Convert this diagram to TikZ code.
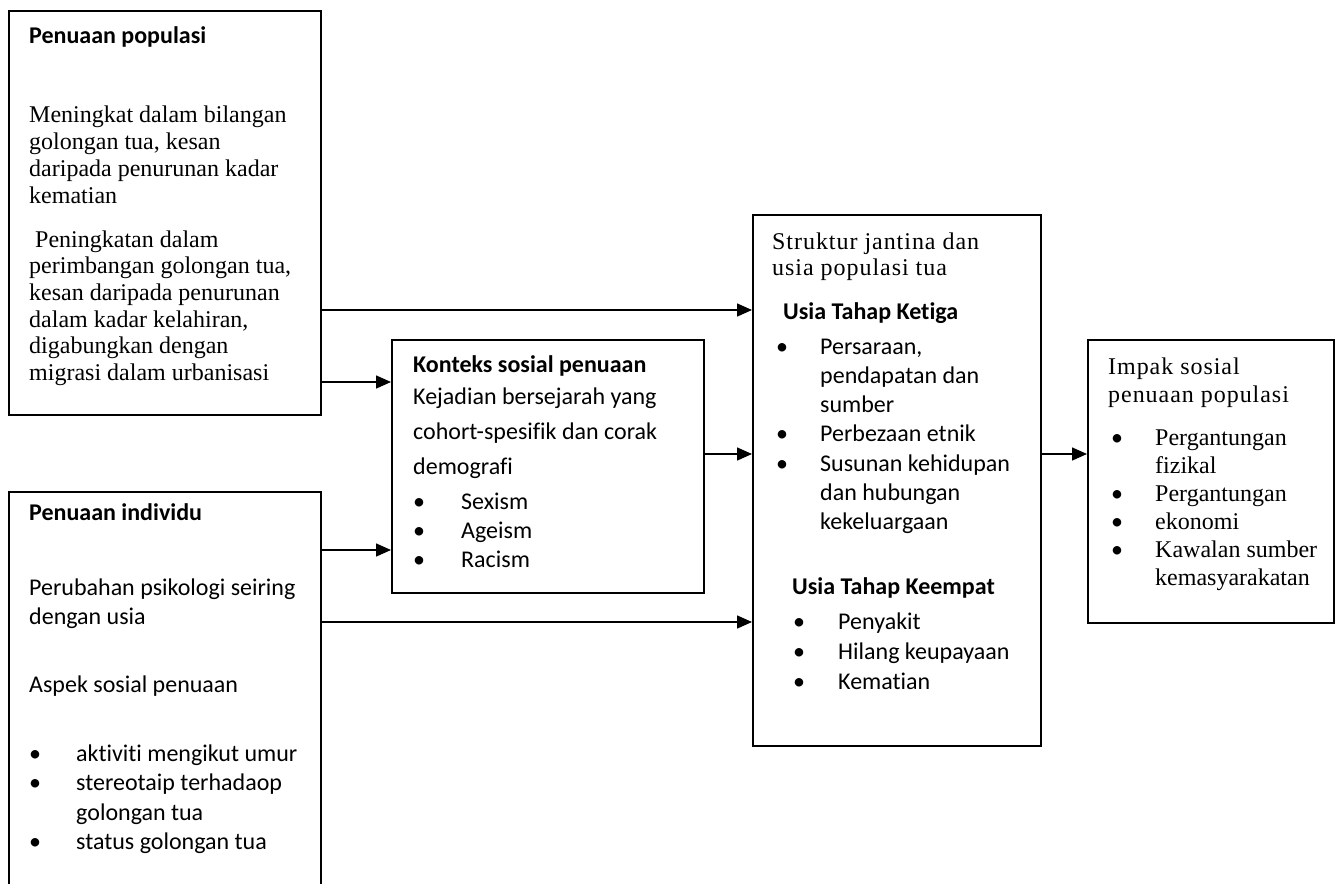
\documentclass[tikz,border=0pt]{standalone}
\usepackage{fontspec}
\setmainfont{Liberation Serif}
\setsansfont{Carlito}[Ligatures={NoCommon,NoContextual}]
\usetikzlibrary{arrows.meta}

% one node per printed line: style, name prefix, x, first baseline, line step, lines
\newcommand\txtlines[6]{%
  \foreach \ln [count=\k] in {#6}{%
    \node[#1] (#2-\k) at (#3, {#4+#5*(\k-1)}) {\ln};}}

\begin{document}
\begin{tikzpicture}[x=1pt,y=-1pt,
  box/.style={draw, line width=1.6pt, rectangle, inner sep=0pt, anchor=north west},
  serif/.style={font=\fontsize{24}{27}\selectfont, anchor=base west, inner sep=0pt},
  serifwide/.style={font=\fontsize{24}{27}\selectfont\addfontfeatures{LetterSpace=4}, anchor=base west, inner sep=0pt},
  sans/.style={font=\sffamily\fontsize{24}{29}\selectfont, anchor=base west, inner sep=0pt},
  sansb/.style={font=\sffamily\bfseries\fontsize{24}{29}\selectfont, anchor=base west, inner sep=0pt},
  arr/.style={-{Triangle[length=15pt,width=13pt]}, line width=1.5pt}]

\useasboundingbox (0,0) rectangle (1335,883);

% boxes
\node[box, minimum width=312pt, minimum height=404pt] (b1) at (8,10) {};
\node[box, minimum width=312pt, minimum height=420pt] (b2) at (8,491) {};
\node[box, minimum width=312pt, minimum height=253pt] (b3) at (391,339) {};
\node[box, minimum width=288pt, minimum height=531pt] (b4) at (752,214) {};
\node[box, minimum width=246pt, minimum height=283pt] (b5) at (1087,339) {};

% Penuaan populasi
\node[sansb] (t1) at (29,44) {Penuaan populasi};
\txtlines{serif}{p1}{29}{122}{27}{Meningkat dalam bilangan,{golongan tua, kesan},daripada penurunan kadar,kematian}
\node[serif] (p2-1) at (35,247) {Peningkatan dalam};
\txtlines{serif}{p2x}{29}{273.7}{26.7}{{perimbangan golongan tua,},kesan daripada penurunan,{dalam kadar kelahiran,},digabungkan dengan,migrasi dalam urbanisasi}

% Penuaan individu
\node[sansb] (t2) at (29,520) {Penuaan individu};
\txtlines{sans}{q1}{29}{595}{29}{Perubahan psikologi seiring,dengan usia}
\node[sans] (q2) at (29,692) {Aspek sosial penuaan};
\txtlines{sans}{q3}{76}{761}{29.5}{aktiviti mengikut umur,stereotaip terhadaop,golongan tua,status golongan tua}
\node[sans] (q3d1) at (29,761) {•};
\node[sans] (q3d2) at (29,790.5) {•};
\node[sans] (q3d4) at (29,849.5) {•};

% Konteks sosial penuaan
\node[sansb] (t3) at (413,372) {Konteks sosial penuaan};
\txtlines{sans}{r1}{413}{404}{35}{Kejadian bersejarah yang,cohort-spesifik dan corak,demografi}
\txtlines{sans}{r2}{461}{509}{29}{Sexism,Ageism,Racism}
\txtlines{sans}{r2d}{413}{509}{29}{•,•,•}

% Struktur jantina dan usia populasi tua
\txtlines{serifwide}{s0}{772}{249}{26.5}{Struktur jantina dan,usia populasi tua}
\node[sansb] (t4a) at (783,319) {Usia Tahap Ketiga};
\txtlines{sans}{s1}{820}{354}{29.3}{{Persaraan,},pendapatan dan,sumber,Perbezaan etnik,Susunan kehidupan,dan hubungan,kekeluargaan}
\node[sans] (s1d1) at (776,354) {•};
\node[sans] (s1d4) at (776,441.9) {•};
\node[sans] (s1d5) at (776,471.2) {•};
\node[sansb] (t4b) at (792,594) {Usia Tahap Keempat};
\txtlines{sans}{s2}{838}{629}{30}{Penyakit,Hilang keupayaan,Kematian}
\txtlines{sans}{s2d}{793}{629}{30}{•,•,•}

% Impak sosial penuaan populasi
\txtlines{serifwide}{u0}{1108}{374}{28}{Impak sosial,penuaan populasi}
\txtlines{serif}{u1}{1155}{445}{28}{Pergantungan,fizikal,Pergantungan,ekonomi,Kawalan sumber,kemasyarakatan}
\node[sans] (u1d1) at (1111,445) {•};
\node[sans] (u1d3) at (1111,501) {•};
\node[sans] (u1d4) at (1111,529) {•};
\node[sans] (u1d5) at (1111,557) {•};

% connector heights
\coordinate (y1) at (0,310);
\coordinate (y2) at (0,382);
\coordinate (y3) at (0,550);
\coordinate (y4) at (0,622);
\coordinate (y5) at (0,454);

\draw[arr] (b1.east |- y1) -- (b4.west |- y1);
\draw[arr] (b1.east |- y2) -- (b3.west |- y2);
\draw[arr] (b2.east |- y3) -- (b3.west |- y3);
\draw[arr] (b2.east |- y4) -- (b4.west |- y4);
\draw[arr] (b3.east |- y5) -- (b4.west |- y5);
\draw[arr] (b4.east |- y5) -- (b5.west |- y5);
\end{tikzpicture}
\end{document}
